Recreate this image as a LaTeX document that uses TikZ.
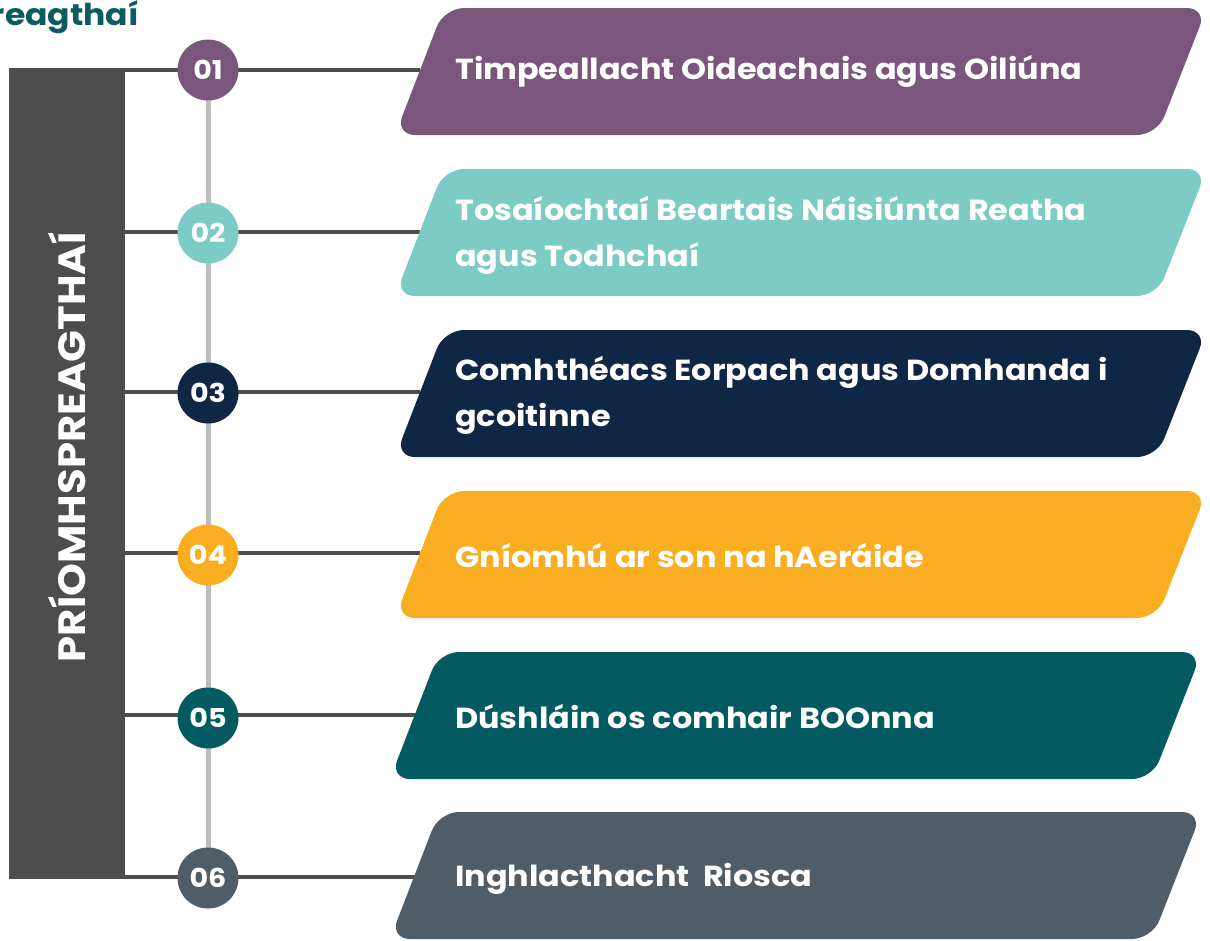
\documentclass[tikz,border=0pt]{standalone}
\usepackage{fontspec}
\setmainfont{Poppins}[FakeStretch=1.1]
\usetikzlibrary{backgrounds}
\definecolor{cA}{HTML}{7A567C}
\definecolor{cB}{HTML}{7CCBC4}
\definecolor{cC}{HTML}{0F2645}
\definecolor{cD}{HTML}{F9AE21}
\definecolor{cE}{HTML}{045A61}
\definecolor{cF}{HTML}{4F5D69}
\definecolor{barc}{HTML}{4D4D4D}
\definecolor{vlinec}{HTML}{BDBDBD}
\definecolor{titlec}{HTML}{0B5B60}
\newcommand\plaque[4]{% color, top y, x shift, name
  \fill[#1, rounded corners=20pt] (395+#3,#2+127) -- (444+#3,#2) -- (1207+#3,#2) -- (1157+#3,#2+127) -- cycle;
}
\begin{document}
\begin{tikzpicture}[x=1pt,y=-1pt,
  num/.style={circle, minimum size=61pt, inner sep=0pt, text=white, font=\bfseries\fontsize{26}{26}\selectfont},
  label/.style={anchor=west, align=left, text=white, inner sep=0pt, font=\bfseries\fontsize{29}{46}\selectfont},
  hline/.style={draw=barc, line width=4.5pt},
  vline/.style={draw=vlinec, line width=5pt}]
\useasboundingbox (0,0) rectangle (1210,940);
\clip (0,0) rectangle (1210,940);
% title
\node[anchor=base east, text=titlec, inner sep=0pt, font=\bfseries\fontsize{30}{30}\selectfont] (title) at (139,25) {Príomhspreagthaí};
% bar
\node[fill=barc, minimum width=116pt, minimum height=807pt, inner sep=0pt, anchor=north west] (bar) at (9,68) {};
\node[rotate=90, text=white, inner sep=0pt, font=\bfseries\fontsize{38}{38}\selectfont] (bartext) at (67,447) {PRÍOMHSPREAGTHAÍ};
% plaques
\plaque{cA}{8}{0}{p1}
\plaque{cB}{169}{0}{p2}
\plaque{cC}{330}{0}{p3}
\plaque{cD}{491}{0}{p4}
\plaque{cE}{652}{-5}{p5}
\plaque{cF}{812}{-5}{p6}
\coordinate (s1) at (420,70);
\coordinate (s2) at (420,232);
\coordinate (s3) at (420,392);
\coordinate (s4) at (420,553);
\coordinate (s5) at (415,715);
\coordinate (s6) at (415,877);
% labels
\node[label] (t1) at (455,71) {Timpeallacht Oideachais agus Oiliúna};
\node[label] (t2) at (455,235) {Tosaíochtaí Beartais Náisiúnta Reatha\\agus Todhchaí};
\node[label] (t3) at (455,395) {Comhthéacs Eorpach agus Domhanda i\\gcoitinne};
\node[label] (t4) at (455,556) {Gníomhú ar son na hAeráide};
\node[label] (t5) at (455,717) {Dúshláin os comhair BOOnna};
\node[label] (t6) at (455,879) {Inghlacthacht~ Riosca};
% number circles
\node[num, fill=cA] (n1) at (208,70) {01};
\node[num, fill=cB] (n2) at (208,233) {02};
\node[num, fill=cC] (n3) at (208,393) {03};
\node[num, fill=cD] (n4) at (208,555) {04};
\node[num, fill=cE] (n5) at (208,718) {05};
\node[num, fill=cF] (n6) at (208,878) {06};
\begin{pgfonlayer}{background}
  \draw[vline] (n1.center) -- (n6.center);
  \draw[hline] (bar.west |- s1) -- (s1);
  \draw[hline] (bar.west |- s2) -- (s2);
  \draw[hline] (bar.west |- s3) -- (s3);
  \draw[hline] (bar.west |- s4) -- (s4);
  \draw[hline] (bar.west |- s5) -- (s5);
  \draw[hline] (bar.west |- s6) -- (s6);
\end{pgfonlayer}
\end{tikzpicture}
\end{document}
